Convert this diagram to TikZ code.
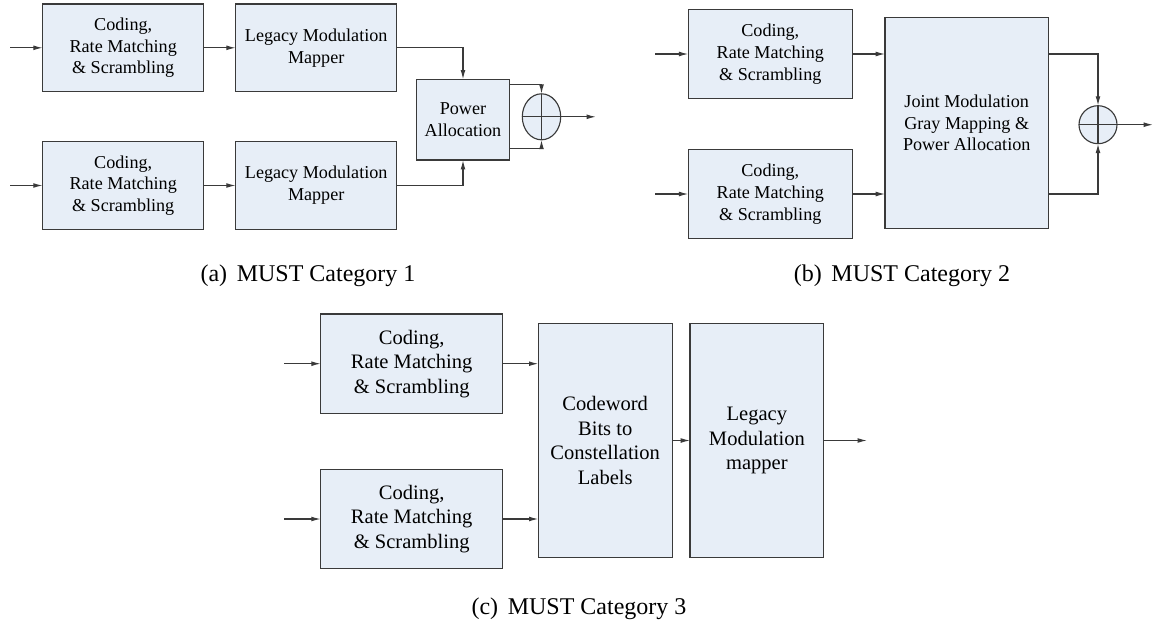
\documentclass[tikz,border=0pt]{standalone}
\usepackage{fontspec}
\setmainfont{Liberation Serif}
\usetikzlibrary{arrows.meta,calc,shapes.geometric}
\definecolor{boxfill}{RGB}{231,238,247}
\definecolor{edge}{RGB}{58,58,58}
\tikzset{
  blk/.style={draw=edge,fill=boxfill,line width=0.85pt,inner sep=0pt,outer sep=0pt,align=center,
    font=\fontsize{13.6}{16.3}\selectfont},
  blkc/.style={blk,font=\fontsize{15.4}{18.4}\selectfont},
  sumnode/.style={draw=edge,fill=boxfill,line width=0.85pt,inner sep=0pt,outer sep=0pt},
  arr/.style={draw=edge,line width=0.85pt,-{Latex[length=7pt,width=3.6pt]}},
  wire/.style={draw=edge,line width=0.85pt},
  captxt/.style={anchor=base,font=\fontsize{18}{21}\selectfont}
}
\begin{document}
\begin{tikzpicture}[x=0.75pt,y=-0.75pt]
\useasboundingbox (0,0) rectangle (1154,632);
% ---------- (a) ----------
\node[blk,minimum width=120.75pt,minimum height=65.8pt] (ca1) at (123.2,47.8) {Coding,\\Rate Matching\\\& Scrambling};
\node[blk,minimum width=120.75pt,minimum height=65.8pt] (ca2) at (123.2,185.5) {Coding,\\Rate Matching\\\& Scrambling};
\node[blk,minimum width=120.75pt,minimum height=65.8pt] (la1) at (316.2,47.8) {Legacy Modulation\\Mapper};
\node[blk,minimum width=120.75pt,minimum height=65.8pt] (la2) at (316.2,185.5) {Legacy Modulation\\Mapper};
\node[blk,minimum width=69.5pt,minimum height=60.5pt] (pa) at (463,119.7) {Power\\Allocation};
\node[sumnode,ellipse,minimum width=28.8pt,minimum height=34.5pt] (sa) at (541.5,116.8) {};
\draw[wire] (sa.north) -- (sa.south) (sa.west) -- (sa.east);
\coordinate (ia1) at (10,47.8);
\coordinate (ia2) at (10,185.5);
\coordinate (oa) at (596,116.8);
\draw[arr] (ia1) -- (ca1.west);
\draw[arr] (ia2) -- (ca2.west);
\draw[arr] (ca1.east) -- (la1.west);
\draw[arr] (ca2.east) -- (la2.west);
\draw[arr] (la1.east) -| (pa.north);
\draw[arr] (la2.east) -| (pa.south);
\draw[arr] ($(pa.north east)+(0,5)$) -| (sa.north);
\draw[arr] ($(pa.south east)+(0,-11.7)$) -| (sa.south);
\draw[arr] (sa.east) -- (oa);
\node[captxt] (capa) at (308,281) {(a)\hspace{0.4em}MUST Category 1};
% ---------- (b) ----------
\node[blk,minimum width=123pt,minimum height=67pt] (cb1) at (770.3,54) {Coding,\\Rate Matching\\\& Scrambling};
\node[blk,minimum width=123pt,minimum height=67pt] (cb2) at (770.3,194) {Coding,\\Rate Matching\\\& Scrambling};
\node[blk,minimum width=122.5pt,minimum height=158.5pt] (jb) at (966.7,123) {Joint Modulation\\Gray Mapping \&\\Power Allocation};
\node[sumnode,circle,minimum size=28.5pt] (sb) at (1098,124.7) {};
\draw[wire] (sb.north) -- (sb.south) (sb.west) -- (sb.east);
\coordinate (ib1) at (655,54);
\coordinate (ib2) at (655,194);
\coordinate (ob) at (1153,124.7);
\draw[arr] (ib1) -- (cb1.west);
\draw[arr] (ib2) -- (cb2.west);
\draw[arr] (cb1.east) -- (cb1.east -| jb.west);
\draw[arr] (cb2.east) -- (cb2.east -| jb.west);
\draw[arr] (jb.east |- cb1.east) -| (sb.north);
\draw[arr] (jb.east |- cb2.east) -| (sb.south);
\draw[arr] (sb.east) -- (ob);
\node[captxt] (capb) at (902,281) {(b)\hspace{0.4em}MUST Category 2};
% ---------- (c) ----------
\node[blkc,minimum width=136.5pt,minimum height=74.5pt] (cc1) at (411.7,363.7) {Coding,\\Rate Matching\\\& Scrambling};
\node[blkc,minimum width=136.5pt,minimum height=74.5pt] (cc2) at (411.7,519) {Coding,\\Rate Matching\\\& Scrambling};
\node[blkc,minimum width=100.3pt,minimum height=175.8pt] (cw) at (605.2,440.5) {Codeword\\Bits to\\Constellation\\Labels};
\node[blkc,minimum width=100.3pt,minimum height=175.8pt] (lc) at (756.9,440.5) {Legacy\\Modulation\\mapper};
\coordinate (ic1) at (284,363.7);
\coordinate (ic2) at (284,519);
\coordinate (oc) at (867,440.5);
\draw[arr] (ic1) -- (cc1.west);
\draw[arr] (ic2) -- (cc2.west);
\draw[arr] (cc1.east) -- (cc1.east -| cw.west);
\draw[arr] (cc2.east) -- (cc2.east -| cw.west);
\draw[arr] (cw.east) -- (lc.west);
\draw[arr] (lc.east) -- (oc);
\node[captxt] (capc) at (579,614) {(c)\hspace{0.4em}MUST Category 3};
\end{tikzpicture}
\end{document}
